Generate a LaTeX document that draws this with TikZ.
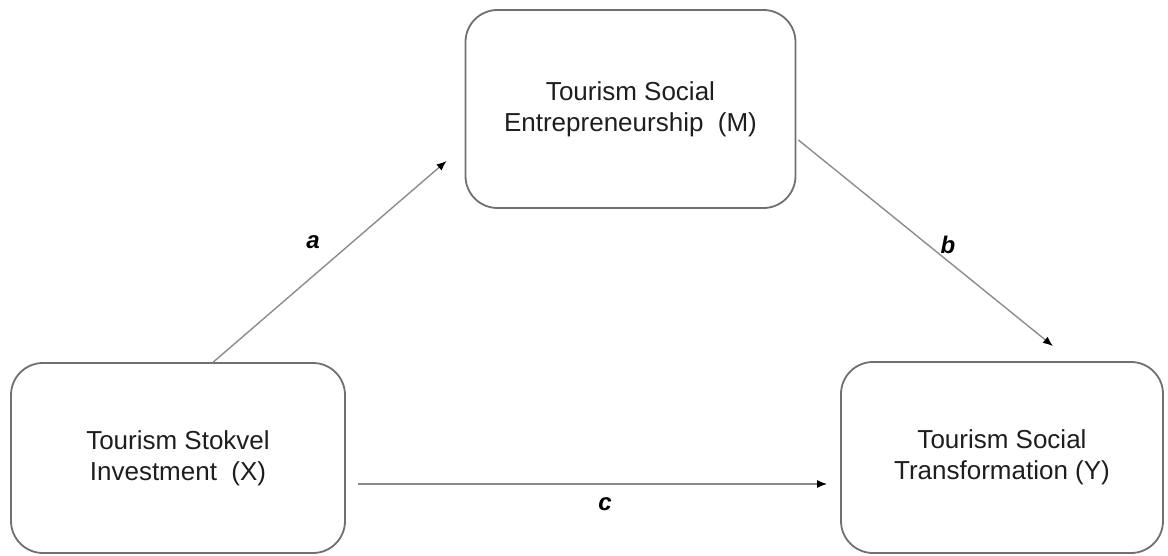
\documentclass[tikz,border=0pt]{standalone}
\usepackage{fontspec}
\setmainfont{Liberation Sans}
\usetikzlibrary{arrows.meta,calc}
\definecolor{boxline}{HTML}{707070}
\definecolor{arrline}{HTML}{8C8C8C}
\definecolor{txt}{HTML}{1E1E1E}
\begin{document}
\begin{tikzpicture}[x=1pt,y=1pt,
  varbox/.style={draw=boxline, line width=1.8pt, rounded corners=32pt,
    fill=white, text=txt, align=center, inner sep=0pt,
    font=\fontsize{26}{31}\selectfont},
  path/.style={draw=arrline, line width=1.4pt,
    -{Latex[length=10pt,width=8pt,color=black]}},
  coef/.style={font=\fontsize{24}{28}\selectfont\bfseries\itshape, text=black, inner sep=0pt}]
\useasboundingbox (0,0) rectangle (1168,-556);

% variable boxes
\node[varbox, minimum width=330pt, minimum height=198pt] (M) at (630.5,-109)
  {Tourism Social\\Entrepreneurship~~(M)};
\node[varbox, minimum width=334pt, minimum height=190pt] (X) at (178,-458)
  {Tourism Stokvel\\Investment~~(X)};
\node[varbox, minimum width=322pt, minimum height=191pt] (Y) at (1002,-457.5)
  {Tourism Social\\Transformation (Y)};

% paths a, b, c
\draw[path] ($(X.north west)!0.605!(X.north east)$) -- ([xshift=-18pt,yshift=48pt]M.south west);
\draw[path] ([xshift=2pt,yshift=-31pt]M.east) -- ([xshift=51pt,yshift=15pt]Y.north);
\draw[path] ([xshift=12pt,yshift=-26pt]X.east) -- ([xshift=-13pt,yshift=-26.5pt]Y.west);

% coefficient labels
\node[coef] (la) at (313,-242) {a};
\node[coef] (lb) at (948,-245) {b};
\node[coef] (lc) at (605,-504) {c};
\end{tikzpicture}
\end{document}
